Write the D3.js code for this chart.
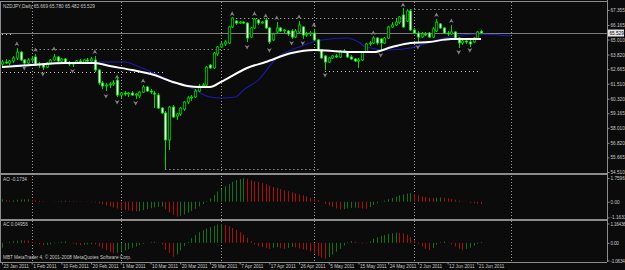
<!DOCTYPE html>
<html>
<head>
	<meta charset="utf-8">
	<title>NZDJPY Daily</title>
	<script src="https://d3js.org/d3.v7.min.js"></script>
	<style>
		body { margin: 0; background: #0b0b0b; overflow: hidden; }
		svg text { font-family: "Liberation Sans", Arial, sans-serif; }
	</style>
</head>
<body>
	<div class="chart"></div>

	<script type="text/javascript">
		// daily bars, index 0 = 23 Jan 2011 ... 129 = 22 Jun 2011
		const open = [63.07, 63.23, 63.15, 63.31, 63.55, 64.02, 63.39, 63.15, 63.39, 63.63, 62.99, 63.07, 62.83, 63.15, 63.39, 63.63, 63.31, 63.47, 63.15, 63.07,
			63.15, 63.31, 63.23, 63.39, 63.31, 63.39, 62.60, 61.57, 61.33, 61.41, 61.49, 61.80, 60.61, 60.77, 60.69, 60.77, 60.61, 60.54, 60.85, 61.25,
			60.93, 60.77, 60.61, 59.58, 59.19, 57.05, 59.66, 58.95, 59.11, 59.50, 60.06, 60.38, 60.46, 60.93, 61.33, 61.41, 62.99, 62.76, 63.87, 64.42,
			64.66, 64.74, 66.01, 66.48, 66.32, 66.40, 66.32, 65.21, 65.93, 66.56, 66.32, 66.56, 65.93, 64.98, 65.61, 65.93, 65.69, 65.69, 65.69, 65.21,
			65.61, 66.01, 65.37, 65.45, 65.53, 64.98, 64.18, 63.71, 63.23, 63.55, 63.71, 63.63, 64.10, 64.02, 63.63, 63.47, 63.31, 63.39, 64.02, 64.66,
			64.74, 65.13, 65.06, 64.74, 65.13, 66.01, 66.17, 66.40, 66.96, 66.48, 67.28, 65.77, 65.53, 65.21, 65.45, 65.53, 65.21, 65.69, 66.25, 65.93,
			65.53, 65.45, 65.61, 65.13, 64.74, 64.90, 64.82, 64.82, 65.13, 65.669]
		const high = [63.39, 63.47, 63.39, 63.71, 64.34, 64.10, 63.47, 63.55, 63.63, 63.87, 63.23, 63.15, 63.23, 63.47, 63.87, 63.71, 63.55, 63.55, 63.31, 63.23,
			63.39, 63.47, 63.47, 63.55, 63.63, 63.71, 62.68, 61.72, 61.57, 61.65, 61.80, 61.96, 60.85, 60.93, 60.85, 60.93, 60.77, 60.93, 61.41, 61.33,
			61.09, 60.93, 60.77, 59.66, 59.35, 59.74, 59.82, 59.19, 59.66, 60.14, 60.54, 60.61, 61.09, 61.49, 61.57, 62.91, 63.07, 64.02, 64.50, 64.82,
			64.98, 66.09, 66.80, 66.56, 66.48, 66.48, 66.40, 66.01, 66.72, 66.64, 66.48, 66.72, 66.01, 65.53, 66.40, 66.01, 65.85, 65.77, 65.85, 65.85,
			66.48, 66.09, 65.61, 65.69, 65.85, 65.06, 64.26, 63.79, 63.63, 63.79, 63.87, 64.18, 64.26, 64.10, 63.79, 63.55, 63.55, 64.10, 64.74, 64.90,
			65.29, 65.21, 65.13, 65.21, 66.09, 66.40, 66.64, 66.88, 67.51, 67.43, 67.36, 65.93, 65.69, 65.61, 65.61, 65.61, 66.01, 66.64, 66.32, 66.01,
			65.69, 66.17, 65.69, 65.21, 64.98, 64.98, 64.98, 65.21, 65.69, 65.780]
		const low = [62.83, 63.07, 62.99, 63.15, 63.39, 63.31, 62.91, 63.07, 63.23, 62.91, 62.76, 62.60, 62.76, 63.07, 63.31, 63.23, 63.15, 63.07, 62.91, 62.83,
			63.07, 63.15, 63.15, 63.23, 63.23, 62.44, 61.41, 61.09, 60.93, 61.17, 61.33, 60.46, 60.38, 60.54, 60.46, 60.54, 60.30, 60.38, 60.77, 60.85,
			60.69, 59.58, 59.50, 59.11, 54.75, 56.25, 58.79, 58.63, 58.95, 59.35, 59.90, 60.14, 60.38, 60.85, 61.17, 61.25, 62.68, 62.68, 63.71, 64.34,
			64.50, 64.66, 65.93, 66.17, 66.25, 66.25, 64.82, 65.13, 65.85, 66.17, 66.25, 65.85, 64.66, 64.90, 65.45, 65.61, 65.53, 65.29, 65.06, 65.13,
			65.53, 65.06, 65.21, 65.29, 64.90, 64.10, 63.47, 62.60, 63.15, 63.47, 63.55, 63.55, 63.94, 63.55, 63.39, 63.23, 62.76, 63.31, 63.94, 64.50,
			64.66, 64.58, 64.10, 64.66, 65.06, 65.93, 66.09, 66.25, 65.93, 66.40, 65.69, 65.45, 64.74, 65.13, 65.29, 65.13, 65.13, 65.61, 65.85, 65.45,
			65.29, 65.37, 65.06, 64.34, 64.58, 64.66, 64.42, 64.74, 65.06, 65.482]
		const close = [63.23, 63.15, 63.31, 63.55, 64.02, 63.39, 63.15, 63.39, 63.47, 62.99, 63.07, 62.83, 63.15, 63.39, 63.63, 63.31, 63.47, 63.15, 63.07, 63.15,
			63.31, 63.23, 63.39, 63.31, 63.47, 62.60, 61.57, 61.33, 61.41, 61.49, 61.57, 60.61, 60.77, 60.69, 60.77, 60.61, 60.69, 60.85, 61.25, 60.93,
			60.85, 60.69, 59.58, 59.19, 57.05, 59.66, 58.87, 59.11, 59.58, 60.06, 60.38, 60.46, 60.93, 61.33, 61.41, 62.83, 62.76, 63.94, 64.42, 64.66,
			64.82, 66.01, 66.72, 66.32, 66.40, 66.32, 65.13, 65.93, 66.64, 66.32, 66.40, 65.93, 64.82, 65.45, 65.93, 65.69, 65.77, 65.45, 65.21, 65.69,
			66.17, 65.37, 65.45, 65.53, 64.98, 64.18, 63.55, 63.23, 63.55, 63.71, 63.63, 64.10, 64.02, 63.63, 63.47, 63.31, 63.39, 64.02, 64.66, 64.74,
			65.13, 64.74, 64.74, 65.13, 66.01, 66.17, 66.40, 66.80, 66.01, 67.28, 65.77, 65.53, 65.21, 65.45, 65.37, 65.21, 65.85, 66.40, 65.93, 65.53,
			65.45, 65.61, 65.13, 64.74, 64.90, 64.82, 64.66, 65.13, 65.61, 65.529]

		// moving averages: [bar index, price]
		const maWhite = [[0, 62.83], [8, 62.99], [17, 63.15], [25, 63.15], [29, 62.91], [35, 62.60], [41, 62.20], [46, 61.65], [50, 61.33], [53, 61.25],
			[56, 61.25], [59, 61.65], [66, 62.76], [71, 63.23], [78, 63.94], [84, 64.18], [89, 64.10], [95, 64.02], [100, 64.02], [105, 64.42],
			[110, 64.74], [115, 64.82], [121, 65.05], [129, 65.05]]
		const maBlue = [[3, 62.99], [13, 63.15], [24, 63.23], [33, 63.23], [37, 62.83], [42, 62.20], [47, 61.57], [51, 61.17], [56, 60.46], [59, 60.38],
			[63, 60.46], [65, 61.01], [69, 61.80], [74, 63.55], [80, 64.42], [86, 64.98], [93, 65.13], [96, 64.82], [98, 64.42], [104, 64.18],
			[110, 64.34], [117, 64.98], [122, 65.29], [128, 65.45], [137, 65.29]]

		// fractals: [bar index, arrow price]
		const fractalUp = [[4, 64.66], [9, 64.18], [14, 64.26], [25, 64.02], [31, 62.04], [38, 61.72], [62, 67.04], [68, 67.04], [71, 66.88], [74, 66.72],
			[80, 66.80], [84, 66.17], [100, 65.53], [108, 67.75], [117, 66.96], [121, 66.48]]
		const fractalDown = [[6, 62.76], [11, 62.28], [19, 62.52], [28, 60.54], [31, 60.06], [36, 59.98], [66, 64.42], [72, 64.18], [78, 64.74], [81, 64.74],
			[87, 62.20], [102, 63.79], [112, 64.42], [123, 64.02], [126, 64.18]]

		// dotted horizontal levels: [from index, to index, price]
		const levels = [[0, 3, 65.43], [8, 61, 64.26], [0, 44, 62.44], [62, 110, 66.72], [110, 129, 67.43], [87, 129, 62.52], [44, 86, 54.75]]
		// month separators (bar index)
		const separators = [8, 32, 59, 84, 111, 137]

		const ao = [0.18, 0.12, 0.08, 0.10, 0.14, 0.16, 0.17, 0.18, 0.14, 0.10, 0.06, 0.03, 0.01, 0.00, 0.02, 0.03, 0.05, 0.07, 0.05, 0.04,
			0.03, 0.01, -0.01, -0.02, -0.03, -0.05, -0.12, -0.20, -0.28, -0.35, -0.42, -0.50, -0.58, -0.62, -0.66, -0.70, -0.72, -0.70, -0.62, -0.55,
			-0.48, -0.42, -0.38, -0.36, -0.55, -0.80, -0.98, -1.10, -1.05, -0.95, -0.82, -0.68, -0.52, -0.35, -0.18, 0.05, 0.25, 0.50, 0.75, 0.95,
			1.15, 1.32, 1.48, 1.60, 1.68, 1.74, 1.70, 1.60, 1.52, 1.45, 1.38, 1.30, 1.20, 1.10, 1.02, 0.94, 0.86, 0.78, 0.70, 0.62,
			0.55, 0.48, 0.40, 0.30, 0.22, 0.12, 0.00, -0.15, -0.28, -0.40, -0.50, -0.57, -0.55, -0.50, -0.46, -0.44, -0.47, -0.50, -0.52, -0.40,
			-0.25, -0.12, -0.02, 0.08, 0.18, 0.28, 0.38, 0.48, 0.55, 0.60, 0.65, 0.58, 0.48, 0.40, 0.34, 0.30, 0.28, 0.30, 0.32, 0.30,
			0.25, 0.20, 0.15, 0.08, 0.03, -0.02, -0.08, -0.12, -0.15, -0.1734]
		const ac = [-0.30, 0.02, 0.06, 0.10, 0.13, 0.16, 0.15, 0.14, 0.06, -0.04, -0.10, -0.14, -0.12, -0.08, -0.03, 0.02, 0.06, 0.08, 0.02, -0.04,
			-0.10, -0.14, -0.12, -0.10, -0.08, -0.10, -0.22, -0.34, -0.46, -0.56, -0.64, -0.60, -0.52, -0.46, -0.38, -0.30, -0.22, -0.14, -0.06, 0.00,
			0.04, 0.06, 0.02, -0.10, -0.40, -0.62, -0.84, -0.70, -0.46, -0.20, 0.05, 0.28, 0.48, 0.64, 0.76, 0.86, 0.94, 1.02, 1.10, 1.14,
			1.08, 1.00, 0.90, 0.78, 0.64, 0.50, 0.30, 0.10, -0.10, -0.20, -0.26, -0.30, -0.36, -0.30, -0.26, -0.30, -0.36, -0.30, -0.24, -0.28,
			-0.34, -0.40, -0.44, -0.52, -0.64, -0.78, -0.90, -0.96, -0.86, -0.70, -0.54, -0.36, -0.16, 0.04, 0.10, 0.06, 0.02, -0.04, -0.02, 0.10,
			0.24, 0.34, 0.42, 0.48, 0.54, 0.58, 0.62, 0.60, 0.56, 0.50, 0.36, 0.16, -0.06, -0.20, -0.36, -0.44, -0.30, -0.12, 0.04, 0.08,
			0.02, -0.10, -0.22, -0.36, -0.44, -0.36, -0.28, -0.16, -0.06, 0.0496]

		const priceTicks = [67.355, 66.165, 65.010, 63.820, 62.665, 61.510, 60.320, 59.165, 58.010, 56.820, 55.665, 54.510]
		const aoTicks = [1.7596, 0, -1.1633]
		const aoTickLabels = ['1.7596', '0.00', '-1.1633']
		const acTicks = [1.1644, 0, -1.0634]
		const acTickLabels = ['1.16436', '0.00', '-1.0634']
		const dateIdx = [0, 8, 16, 24, 32, 40, 48, 56, 64, 72, 80, 88, 96, 104, 112, 120, 128]
		const dateLabels = ['23 Jan 2011', '1 Feb 2011', '10 Feb 2011', '20 Feb 2011', '1 Mar 2011', '10 Mar 2011', '20 Mar 2011', '29 Mar 2011',
			'7 Apr 2011', '17 Apr 2011', '26 Apr 2011', '5 May 2011', '15 May 2011', '24 May 2011', '2 Jun 2011', '12 Jun 2011', '21 Jun 2011']

		const width = 625
		const height = 270
		const right = 607
		const gray = '#8c8c8c'
		const txt = '#c8c8c8'
		const fs = 4.7

		const svg = d3.select('.chart').append('svg')
			.attr('width', width)
			.attr('height', height)
			.style('display', 'block')
			.style('background', '#0b0b0b')

		const x = d3.scaleLinear([0, 129], [2, 481])
		const y = d3.scaleLinear([54.51, 67.355], [172, 10])
		const yAO = d3.scaleLinear([-1.1633, 1.7596], [217.4, 178])
		const yAC = d3.scaleLinear([-1.0634, 1.1644], [260.5, 223.5])
		const px = v => Math.round(v) + 0.5

		// pane frames
		const frame = svg.append('g').attr('stroke', gray).attr('fill', 'none')
		frame.append('line').attr('x1', 0).attr('x2', right).attr('y1', 1.5).attr('y2', 1.5)
		frame.append('line').attr('x1', 0.5).attr('x2', 0.5).attr('y1', 1).attr('y2', 263)
		frame.append('line').attr('x1', 0).attr('x2', right).attr('y1', 174).attr('y2', 174).attr('stroke-width', 2)
		frame.append('line').attr('x1', 0).attr('x2', right).attr('y1', 220).attr('y2', 220).attr('stroke-width', 2)
		frame.append('line').attr('x1', 0).attr('x2', right).attr('y1', 262.5).attr('y2', 262.5)

		// month separators through all panes
		svg.append('g').selectAll('line')
			.data(separators)
			.join('line')
			.attr('x1', d => px(x(d))).attr('x2', d => px(x(d)))
			.attr('y1', 2).attr('y2', 262)
			.attr('stroke', '#9a9a9a')
			.attr('stroke-dasharray', '1,2')

		// bid line
		svg.append('line')
			.attr('x1', 0).attr('x2', right)
			.attr('y1', px(y(close[129]))).attr('y2', px(y(close[129])))
			.attr('stroke', '#7c7c7c')

		// dotted levels
		svg.append('g').selectAll('line')
			.data(levels)
			.join('line')
			.attr('x1', d => x(d[0])).attr('x2', d => x(d[1]))
			.attr('y1', d => px(y(d[2]))).attr('y2', d => px(y(d[2])))
			.attr('stroke', '#c4c4c4')
			.attr('stroke-dasharray', '1,3')

		// moving averages
		const line = d3.line().x(d => x(d[0])).y(d => y(d[1])).curve(d3.curveMonotoneX)
		svg.append('path').attr('d', line(maBlue)).attr('fill', 'none').attr('stroke', '#1a1ab0').attr('stroke-width', 1.1)

		// candles
		const bars = d3.range(open.length)
		const candle = svg.append('g').selectAll('g')
			.data(bars)
			.join('g')
		candle.append('line')
			.attr('x1', i => px(x(i))).attr('x2', i => px(x(i)))
			.attr('y1', i => y(high[i])).attr('y2', i => y(low[i]))
			.attr('stroke', '#00d800')
		candle.append('rect')
			.attr('x', i => px(x(i)) - 1.2)
			.attr('width', 2.4)
			.attr('y', i => y(Math.max(open[i], close[i])))
			.attr('height', i => Math.max(0.8, Math.abs(y(open[i]) - y(close[i]))))
			.attr('fill', i => close[i] >= open[i] ? '#0b0b0b' : '#ffffff')
			.attr('stroke', '#00d800')
			.attr('stroke-width', 0.8)

		svg.append('path').attr('d', line(maWhite)).attr('fill', 'none').attr('stroke', '#ffffff').attr('stroke-width', 2)

		// fractal arrows
		svg.append('g').selectAll('path')
			.data(fractalUp)
			.join('path')
			.attr('transform', d => `translate(${x(d[0])},${y(d[1])})`)
			.attr('d', 'M0,-2.6L2.4,2L0,0.8L-2.4,2Z')
			.attr('fill', '#808080')
		svg.append('g').selectAll('path')
			.data(fractalDown)
			.join('path')
			.attr('transform', d => `translate(${x(d[0])},${y(d[1])})`)
			.attr('d', 'M0,2.6L2.4,-2L0,-0.8L-2.4,-2Z')
			.attr('fill', '#808080')

		// AO / AC histograms, green when rising
		const hist = (values, scale) => svg.append('g').selectAll('line')
			.data(bars)
			.join('line')
			.attr('x1', i => px(x(i))).attr('x2', i => px(x(i)))
			.attr('y1', scale(0)).attr('y2', i => scale(values[i]))
			.attr('stroke', i => i > 0 && values[i] < values[i - 1] ? '#a81010' : '#14701a')
		hist(ao, yAO)
		hist(ac, yAC)

		// right price axis
		const styleAxis = g => {
			g.select('.domain').attr('stroke', gray)
			g.selectAll('.tick line').attr('stroke', gray)
			g.selectAll('.tick text').attr('fill', txt).attr('font-size', fs).attr('font-family', '"Liberation Sans", Arial, sans-serif')
		}
		svg.append('g')
			.attr('transform', `translate(${right + 0.5},0)`)
			.call(d3.axisRight(y).tickValues(priceTicks).tickSize(2).tickPadding(1).tickFormat(d3.format('.3f')))
			.call(g => g.select('.domain').attr('d', 'M0,0V262'))
			.call(styleAxis)
		svg.append('g')
			.attr('transform', `translate(${right + 0.5},0)`)
			.call(d3.axisRight(yAO).tickValues(aoTicks).tickSize(2).tickPadding(1).tickFormat((d, i) => aoTickLabels[i]))
			.call(g => g.select('.domain').remove())
			.call(styleAxis)
		svg.append('g')
			.attr('transform', `translate(${right + 0.5},0)`)
			.call(d3.axisRight(yAC).tickValues(acTicks).tickSize(2).tickPadding(1).tickFormat((d, i) => acTickLabels[i]))
			.call(g => g.select('.domain').remove())
			.call(styleAxis)
			.call(g => g.selectAll('.tick text').attr('letter-spacing', -0.25))

		// current price box
		const bid = svg.append('g').attr('transform', `translate(${right + 1},${y(close[129])})`)
		bid.append('rect').attr('x', 0).attr('y', -3.5).attr('width', 16).attr('height', 7).attr('fill', '#e6e6e6')
		bid.append('text').attr('x', 1.5).attr('y', 1.8).attr('font-size', fs).attr('fill', '#000').text(close[129].toFixed(3))

		// time axis
		svg.append('g')
			.attr('transform', 'translate(0,262.5)')
			.call(d3.axisBottom(x).tickValues(dateIdx).tickSize(2).tickPadding(1).tickFormat((d, i) => dateLabels[i]))
			.call(g => g.select('.domain').remove())
			.call(styleAxis)
			.call(g => g.selectAll('.tick text').attr('text-anchor', 'start').attr('dx', 1).attr('dy', '0.6em'))

		// captions
		const caption = (tx, ty, s) => svg.append('text').attr('x', tx).attr('y', ty).attr('font-size', fs).attr('fill', txt).text(s)
		caption(3, 7.5, 'NZDJPY,Daily  65.669 65.780 65.482 65.529')
		caption(3, 181, 'AO -0.1734')
		caption(3, 226, 'AC 0.04956')
		caption(3, 259, 'MBT MetaTrader 4, © 2001-2008 MetaQuotes Software Corp.')
	</script>
</body>
</html>
